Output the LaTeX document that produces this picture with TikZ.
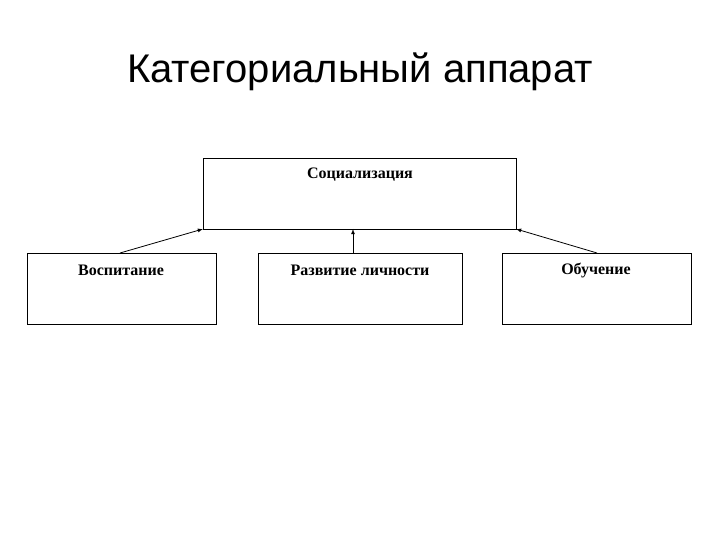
\documentclass[tikz,border=0pt]{standalone}
\usepackage{fontspec}
\setmainfont{Liberation Serif}
\newfontfamily\titlefont{Liberation Sans}
\begin{document}
\begin{tikzpicture}[x=1pt,y=-1pt,
 box/.style={draw,line width=0.8pt,inner sep=0pt},
 lbl/.style={font=\fontsize{16}{18}\selectfont\bfseries},
 arr/.style={-latex,line width=0.8pt}]
\useasboundingbox (0,0) rectangle (720,540);
\node[font=\titlefont\fontsize{40}{46}\selectfont] (title) at (360,72) {Категориальный аппарат};
\draw[box] (203,158) rectangle (516,229);
\coordinate (topL) at (203,229); \coordinate (topM) at (353,229); \coordinate (topR) at (516,229);
\node[lbl] (soc) at (360,175) {Социализация};
\draw[box] (27,253) rectangle (216,324);
\draw[box] (258,253) rectangle (462,324);
\draw[box] (502,253) rectangle (691,324);
\node[lbl] (vos) at (121,270) {Воспитание};
\node[lbl] (raz) at (360,270) {Развитие личности};
\node[lbl] (obu) at (596,270) {Обучение};
\coordinate (bL) at (120,253); \coordinate (bM) at (353,253); \coordinate (bR) at (597,253);
\draw[arr] (bL) -- (topL);
\draw[arr] (bM) -- (topM);
\draw[arr] (bR) -- (topR);
\end{tikzpicture}
\end{document}
